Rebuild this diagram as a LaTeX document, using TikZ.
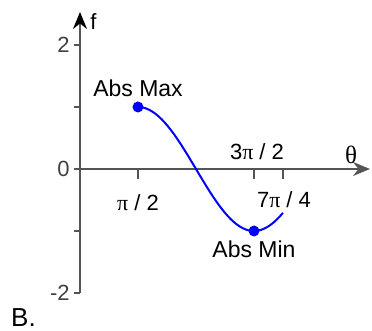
\documentclass[tikz,border=0pt]{standalone}
\usepackage{fontspec}
\setmainfont{Liberation Sans}
\newfontfamily\greekfont{Liberation Serif}
\usetikzlibrary{arrows.meta,positioning}
\definecolor{axisgray}{HTML}{555555}
\definecolor{labelgray}{HTML}{404040}

\begin{document}
\begin{tikzpicture}[
  x=18.46pt, y=31pt,
  axis/.style={
    draw=axisgray,
    line width=1.1pt
  },
  tickline/.style={
    draw=axisgray,
    line width=0.9pt
  },
  ticklabel/.style={
    text=labelgray,
    inner sep=0pt,
    font=\fontsize{11}{13}\selectfont
  },
  anglelabel/.style={
    text=black,
    inner sep=0pt,
    font=\fontsize{11}{13}\selectfont
  },
  extlabel/.style={
    text=black,
    inner sep=1pt,
    font=\fontsize{11.5}{13}\selectfont
  },
  extremum/.style={
    circle,
    fill=blue,
    inner sep=0pt,
    minimum size=5.5pt
  },
  curve/.style={
    draw=blue,
    line width=1pt
  }
]
\useasboundingbox (-40pt,-81pt) rectangle (146pt,84.5pt);

% Axes
\coordinate (origin) at (0,0);
\coordinate (ybot) at (0,-2);
\coordinate (ytop) at (0,2.532);
\coordinate (xend) at (7.855,0);
\draw[axis, -{Stealth[length=8.5pt,width=7pt,color=black]}] (ybot) -- (ytop);
\draw[axis, -{Stealth[length=8.5pt,width=7pt]}] (origin) -- (xend);

% Ticks on the f axis
\foreach \v in {-2,-1,0,1,2} {
  \draw[tickline] (0,\v) -- ++(-3pt,0);
}
\node[ticklabel, anchor=east, xshift=-5pt] (ftwo) at (0,2) {2};
\node[ticklabel, anchor=east, xshift=-5pt] (fzero) at (0,0) {0};
\node[ticklabel, anchor=east, xshift=-5pt] (fmtwo) at (0,-2) {-2};

% Ticks on the theta axis
\foreach \t in {1.5708,4.7124,5.4978} {
  \draw[tickline] (\t,0) -- ++(0,-5pt);
}
\node[anglelabel, yshift=-17pt] (halfpi) at (1.5708,0) {{\greekfont π} / 2};
\node[anglelabel, xshift=1.5pt, yshift=8.5pt] (threehalfpi) at (4.7124,0) {3{\greekfont π} / 2};
\node[anglelabel, xshift=0.5pt, yshift=-15.5pt] (sevenqpi) at (5.4978,0) {7{\greekfont π} / 4};

% Axis names
\node[anglelabel, font=\fontsize{12.5}{14}\selectfont\greekfont] (thetalbl) at (135.5pt,7pt) {θ};
\node[anglelabel, font=\fontsize{11}{13}\selectfont] (flbl) at (6.75pt,73.75pt) {f};

% f = sin(theta)
\draw[curve] plot[domain=1.5708:5.4978, samples=80, smooth] (\x, {sin(\x r)});
\node[extremum] (maxpt) at (1.5708,1) {};
\node[extremum] (minpt) at (4.7124,-1) {};
\node[extlabel, above=1pt of maxpt] (maxlbl) {Abs Max};
\node[extlabel, below=1pt of minpt] (minlbl) {Abs Min};

% Panel letter
\node[extlabel, font=\fontsize{13}{15}\selectfont] (panel) at (-28.25pt,-74.25pt) {B.};

\end{tikzpicture}
\end{document}
